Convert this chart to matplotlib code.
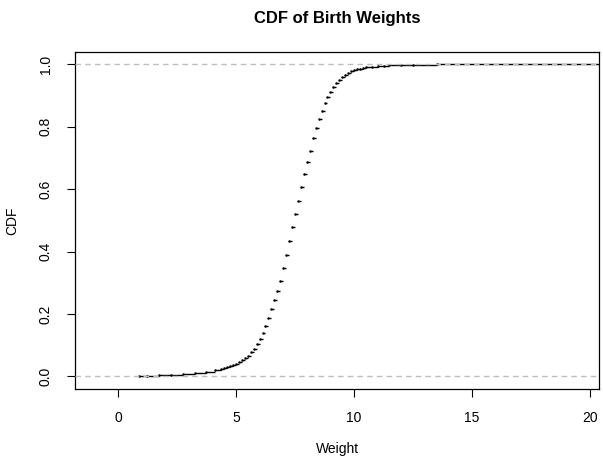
import numpy as np
import matplotlib
matplotlib.use("Agg")
import matplotlib.pyplot as plt

# ECDF of birth weights (lb)
weight = [0.875, 1.25, 1.75, 2.25, 2.75, 3.25, 3.75, 4.125, 4.375,
          4.5, 4.625, 4.75, 4.875, 5.0, 5.125, 5.25, 5.375, 5.5, 5.625,
          5.75, 5.875, 6.0, 6.125, 6.25, 6.375, 6.5, 6.625, 6.75, 6.875,
          7.0, 7.125, 7.25, 7.375, 7.5, 7.625, 7.75, 7.875, 8.0, 8.125,
          8.25, 8.375, 8.5, 8.625, 8.75, 8.875, 9.0, 9.125, 9.25, 9.375,
          9.5, 9.625, 9.75, 9.875, 10.0, 10.125, 10.25, 10.375, 10.5,
          10.75, 11.0, 11.25, 11.5, 12.0, 12.5, 13.5]
cdf = [0.001, 0.002, 0.004, 0.006, 0.009, 0.012, 0.016, 0.021, 0.025,
       0.028, 0.030, 0.033, 0.036, 0.041, 0.046, 0.052, 0.058, 0.067, 0.077,
       0.088, 0.103, 0.120, 0.140, 0.162, 0.187, 0.215, 0.244, 0.275, 0.306,
       0.347, 0.389, 0.433, 0.478, 0.522, 0.564, 0.608, 0.649, 0.688, 0.724,
       0.765, 0.797, 0.826, 0.852, 0.875, 0.895, 0.912, 0.927, 0.940, 0.951,
       0.960, 0.967, 0.973, 0.978, 0.981, 0.984, 0.987, 0.989, 0.991,
       0.993, 0.995, 0.996, 0.997, 0.998, 0.999, 1.0]
xticks = [0, 5, 10, 15, 20]
yticks = [0.0, 0.2, 0.4, 0.6, 0.8, 1.0]

plt.rcParams['font.family'] = ['Liberation Sans', 'DejaVu Sans']

fig = plt.figure(figsize=(6.03, 4.58), dpi=100)
ax = fig.add_axes([0.1244, 0.1507, 0.869, 0.7358])

xlo, xhi = -1.82, 20.38
ax.set_xlim(xlo, xhi)
ax.set_ylim(-0.04, 1.04)

# step function: horizontal pieces plus a point at every knot (like R's plot.ecdf)
x = np.array(weight)
y = np.array(cdf)
x_next = np.append(x[1:], xhi)
ax.hlines(y, x, x_next, colors='black', linewidth=1.0)
ax.plot(x, y, 'o', color='black', markersize=1.8, markeredgewidth=0)

for h in (0, 1):
    ax.axhline(h, color='#bebebe', linewidth=1.0, linestyle=(0, (4, 3)), zorder=3)

ax.set_xticks(xticks)
ax.set_yticks(yticks)
ax.set_yticklabels([f"{v:.1f}" for v in yticks], rotation=90, va='center')
ax.tick_params(direction='out', length=6, width=0.8, labelsize=10, pad=10)
for s in ax.spines.values():
    s.set_linewidth(0.9)

ax.set_xlabel("Weight", fontsize=10, labelpad=12)
ax.set_ylabel("CDF", fontsize=10, labelpad=14)
ax.set_title("CDF of Birth Weights", fontsize=12, fontweight='bold', pad=21)

fig.savefig("out.png", dpi=100)
